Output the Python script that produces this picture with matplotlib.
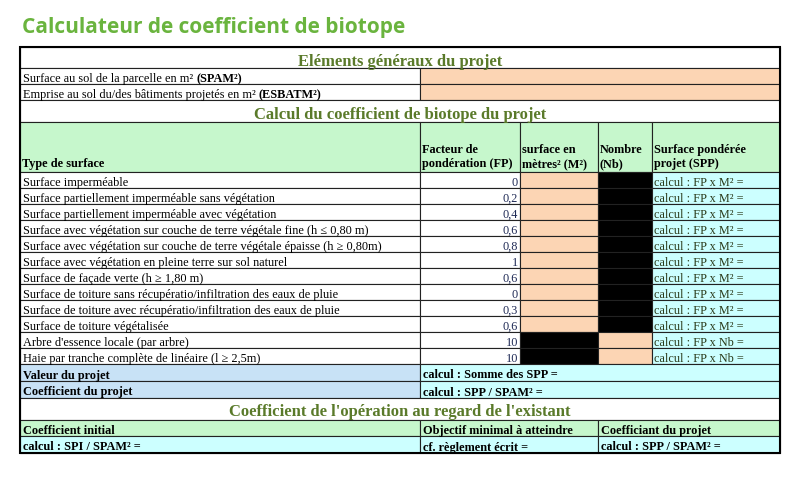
import matplotlib.pyplot as plt
from matplotlib.patches import Rectangle

title = "Calculateur de coefficient de biotope"
general_labels = ["Surface au sol de la parcelle en m² ", "Emprise au sol du/des bâtiments projetés en m² "]
general_bold = ["(SPAM²)", "(ESBATM²)"]
col_headers = ["Type de surface", "Facteur de\npondération (FP)", "surface en\nmètres² (M²)",
               "Nombre\n(Nb)", "Surface pondérée\nprojet (SPP)"]
surface_types = [
    "Surface imperméable",
    "Surface partiellement imperméable sans végétation",
    "Surface partiellement imperméable avec végétation",
    "Surface avec végétation sur couche de terre végétale fine (h ≤ 0,80 m)",
    "Surface avec végétation sur couche de terre végétale épaisse (h ≥ 0,80m)",
    "Surface avec végétation en pleine terre sur sol naturel",
    "Surface de façade verte (h ≥ 1,80 m)",
    "Surface de toiture sans récupératio/infiltration des eaux de pluie",
    "Surface de toiture avec récupératio/infiltration des eaux de pluie",
    "Surface de toiture végétalisée",
    "Arbre d'essence locale (par arbre)",
    "Haie par tranche complète de linéaire (l ≥ 2,5m)",
]
factors = ["0", "0,2", "0,4", "0,6", "0,8", "1", "0,6", "0", "0,3", "0,6", "10", "10"]
per_unit = ["M²"] * 10 + ["Nb"] * 2

ORANGE = "#fcd5b4"
CYAN = "#ccffff"
GREEN = "#c6f7cc"
BLUE = "#c8e2f6"
HEAD = "#5a7a2a"
SERIF = "Liberation Serif"
FS = 8.8

fig = plt.figure(figsize=(8, 4.78), dpi=100)
ax = fig.add_axes([0, 0, 1, 1])
ax.set_xlim(0, 800)
ax.set_ylim(478, 0)
ax.axis("off")


def cell(x0, x1, y0, y1, color="white", lw=0.8):
    ax.add_patch(Rectangle((x0, y0), x1 - x0, y1 - y0, facecolor=color, edgecolor="#222222", lw=lw))


def txt(x, y, s, ha="left", bold=False, color="black", size=FS, va="center_baseline"):
    return ax.text(x, y + 1.5 if va == "center_baseline" else y, s, ha=ha, va=va, fontsize=size,
                   family=SERIF, fontweight="bold" if bold else "normal", color=color)


ax.text(22, 27, title, fontsize=15, fontweight="bold", family="Open Sans", color="#6ab43e", va="center")

L, R = 20, 780
cx = [20, 420, 520, 598, 652, 780]

# general section
cell(L, R, 47, 68)
txt(400, 58, "Eléments généraux du projet", ha="center", color=HEAD, size=12, bold=True)
for i, (lab, b) in enumerate(zip(general_labels, general_bold)):
    y0 = 68 + i * 16
    cell(L, 420, y0, y0 + 16)
    cell(420, R, y0, y0 + 16, ORANGE)
    t = txt(23, y0 + 8, lab)
    fig.canvas.draw()
    bb = t.get_window_extent().transformed(ax.transData.inverted())
    txt(bb.x1, y0 + 8, b, bold=True)

cell(L, R, 100, 122)
txt(400, 111, "Calcul du coefficient de biotope du projet", ha="center", color=HEAD, size=12, bold=True)

# column headers
for j in range(5):
    cell(cx[j], cx[j + 1], 122, 172, GREEN)
    txt(cx[j] + 2, 170, col_headers[j], bold=True, va="bottom")

rh = 16
for i, (s, f, u) in enumerate(zip(surface_types, factors, per_unit)):
    y0 = 172 + i * rh
    cell(cx[0], cx[1], y0, y0 + rh)
    txt(23, y0 + rh / 2, s)
    cell(cx[1], cx[2], y0, y0 + rh)
    txt(cx[2] - 2, y0 + rh / 2, f, ha="right", color="#1f2a55")
    cell(cx[2], cx[3], y0, y0 + rh, ORANGE if u == "M²" else "black")
    cell(cx[3], cx[4], y0, y0 + rh, "black" if u == "M²" else ORANGE)
    cell(cx[4], cx[5], y0, y0 + rh, CYAN)
    txt(cx[4] + 2, y0 + rh / 2, f"calcul : FP x {u} =", color="#2a3a1a")

y = 172 + 12 * rh
for lab, val in [("Valeur du projet", "calcul : Somme des SPP ="),
                 ("Coefficient du projet", "calcul : SPP / SPAM² =")]:
    cell(L, 420, y, y + 17, BLUE)
    txt(23, y + 8.5, lab, bold=True)
    cell(420, R, y, y + 17, CYAN)
    txt(423, y + 8.5, val, bold=True)
    y += 17

cell(L, R, y, y + 22)
txt(400, y + 11, "Coefficient de l'opération au regard de l'existant", ha="center", color=HEAD, size=12, bold=True)
y += 22
bx = [20, 420, 598, 780]
heads = ["Coefficient initial", "Objectif minimal à atteindre", "Coefficiant du projet"]
vals = ["calcul : SPI / SPAM² =", "cf. règlement écrit =", "calcul : SPP / SPAM² ="]
for j in range(3):
    cell(bx[j], bx[j + 1], y, y + 16, GREEN)
    txt(bx[j] + 3, y + 8, heads[j], bold=True)
    cell(bx[j], bx[j + 1], y + 16, y + 33, CYAN)
    txt(bx[j] + 3, y + 24.5, vals[j], bold=True)

ax.add_patch(Rectangle((L, 47), R - L, y + 33 - 47, fill=False, edgecolor="black", lw=1.5))

fig.savefig("out.png", dpi=100)
